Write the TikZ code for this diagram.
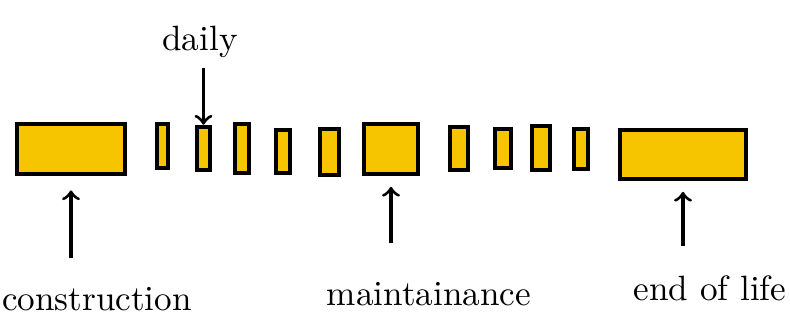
\documentclass[tikz,border=0pt]{standalone}
\definecolor{marker}{RGB}{247,196,0}
\begin{document}
\begin{tikzpicture}[x=0.01cm,y=-0.01cm,
  slab/.style={draw,fill=marker,line width=1.3pt,inner sep=0pt},
  tag/.style={anchor=base,inner ysep=8pt},
  pointer/.style={->,line width=0.9pt,shorten >=4pt}]
\useasboundingbox (0,0) rectangle (790,327);
% big phases
\node[slab,minimum width=10.8mm,minimum height=5mm] (constr) at (71,149) {};
\node[slab,minimum width=5.4mm,minimum height=5mm] (maint) at (391,149) {};
\node[slab,minimum width=12.6mm,minimum height=4.9mm] (eol) at (683,154.5) {};
% daily use
\node[slab,minimum width=1.1mm,minimum height=4.4mm] (t1) at (162.5,146) {};
\node[slab,minimum width=1.3mm,minimum height=4.3mm] (t2) at (203.5,148.5) {};
\node[slab,minimum width=1.4mm,minimum height=4.9mm] (t3) at (242,148.5) {};
\node[slab,minimum width=1.4mm,minimum height=4.3mm] (t4) at (283,151.5) {};
\node[slab,minimum width=1.9mm,minimum height=4.6mm] (t5) at (329.5,152) {};
\node[slab,minimum width=1.8mm,minimum height=4.3mm] (t6) at (459,148.5) {};
\node[slab,minimum width=1.6mm,minimum height=3.9mm] (t7) at (503,148.5) {};
\node[slab,minimum width=1.8mm,minimum height=4.4mm] (t8) at (541,148) {};
\node[slab,minimum width=1.4mm,minimum height=4mm] (t9) at (581,149) {};
% labels
\node[tag,inner ysep=1pt] (ldaily) at (200,50) {daily};
\node[tag] (lconstr) at (97,310) {construction};
\node[tag] (lmaint) at (429,305) {maintainance};
\node[tag] (leol) at (710,300) {end of life};
\draw[pointer,shorten >=0pt,shorten <=2pt] (ldaily.south -| t2.north) -- (t2.north);
\draw[pointer] (lconstr.north -| constr.south) -- (constr.south);
\draw[pointer,shorten <=3pt,shorten >=3pt] (lmaint.north -| maint.south) -- (maint.south);
\draw[pointer,shorten >=3pt] (leol.north -| eol.south) -- (eol.south);
\end{tikzpicture}
\end{document}
